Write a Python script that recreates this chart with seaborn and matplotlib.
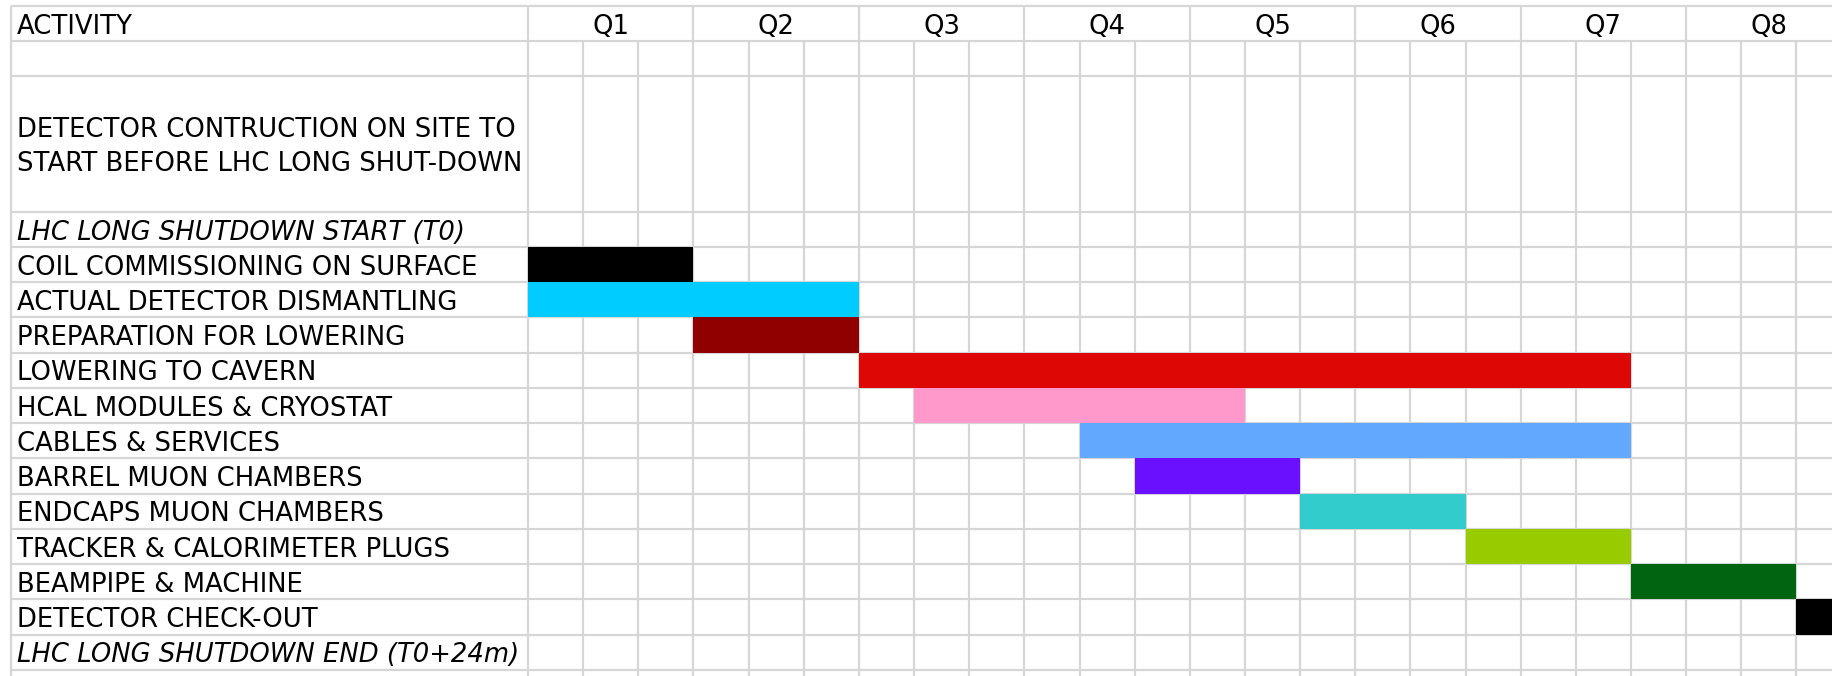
import matplotlib
matplotlib.use("Agg")
import matplotlib.pyplot as plt
import seaborn as sns

# chart content
quarters = ["Q1", "Q2", "Q3", "Q4", "Q5", "Q6", "Q7", "Q8"]
intro_lines = ["DETECTOR CONTRUCTION ON SITE TO", "START BEFORE LHC LONG SHUT-DOWN"]
activities = [
    "LHC LONG SHUTDOWN START (T0)",
    "COIL COMMISSIONING ON SURFACE",
    "ACTUAL DETECTOR DISMANTLING",
    "PREPARATION FOR LOWERING",
    "LOWERING TO CAVERN",
    "HCAL MODULES & CRYOSTAT",
    "CABLES & SERVICES",
    "BARREL MUON CHAMBERS",
    "ENDCAPS MUON CHAMBERS",
    "TRACKER & CALORIMETER PLUGS",
    "BEAMPIPE & MACHINE",
    "DETECTOR CHECK-OUT",
    "LHC LONG SHUTDOWN END (T0+24m)",
]
milestones = ["LHC LONG SHUTDOWN START (T0)", "LHC LONG SHUTDOWN END (T0+24m)"]
# months from T0 (start, end); None = milestone row without a bar
start_month = [None, 0, 0, 3, 6, 7, 10, 11, 14, 17, 20, 23, None]
end_month = [None, 3, 6, 6, 20, 13, 20, 14, 17, 20, 23, 24, None]
bar_colors = [None, "#000000", "#00ccff", "#900000", "#dd0806", "#ff99cc",
              "#62a8ff", "#6b0fff", "#33cccc", "#99cc00", "#006411", "#000000", None]

# sheet layout (pixels of the 1832x676 output)
W, H = 1832, 676
month_px = 55.15
act_px = 528
left_px = 11
top_px = 6
row_px = 35.23
intro_rows = 3.84
n_months = 24
grid_col = "#d6d6d6"
fs = 18.6

sns.set_theme(style="white")
plt.rcParams["font.family"] = ["DejaVu Sans"]
plt.rcParams["text.color"] = "black"

fig = plt.figure(figsize=(W / 100, H / 100), dpi=100)
ax = fig.add_axes([0, 0, 1, 1])
x_min, x_max = -act_px / month_px, (W - act_px) / month_px
y_top, y_bot = -top_px / row_px, (H - top_px) / row_px
ax.set_xlim(x_min, x_max)
ax.set_ylim(y_bot, y_top)
ax.axis("off")

x_border = (left_px - act_px) / month_px
x_text = (left_px + 6 - act_px) / month_px
first_act = 2 + intro_rows

# grid
row_lines = [0, 1, 2] + [first_act + i for i in range(len(activities) + 1)]
ax.hlines(row_lines, x_border, n_months, color=grid_col, lw=1.6, zorder=1)
ax.vlines([x_border, 0], 0, y_bot, color=grid_col, lw=1.6, zorder=1)
for m in range(1, n_months + 1):
    ax.vlines(m, 0 if m % 3 == 0 else 1, y_bot, color=grid_col, lw=1.6, zorder=1)

# bars
for i, (s, e, c) in enumerate(zip(start_month, end_month, bar_colors)):
    if s is None:
        continue
    ax.barh(first_act + i + 0.5, e - s, left=s, height=1.0, color=c,
            linewidth=0, zorder=3)

# header
ax.text(x_text, 0.79, "ACTIVITY", ha="left", va="baseline", fontsize=fs)
for q, name in enumerate(quarters):
    ax.text(3 * q + 1.5, 0.79, name, ha="center", va="baseline", fontsize=fs)

# intro block
mid = 2 + intro_rows / 2
ax.text(x_text, mid - 0.2, intro_lines[0], ha="left", va="baseline", fontsize=fs)
ax.text(x_text, mid + 0.77, intro_lines[1], ha="left", va="baseline", fontsize=fs)

# activity labels
for i, name in enumerate(activities):
    ax.text(x_text, first_act + i + 0.79, name, ha="left", va="baseline",
            fontsize=fs, style="italic" if name in milestones else "normal")

fig.savefig("out.png", dpi=100, facecolor="white")
